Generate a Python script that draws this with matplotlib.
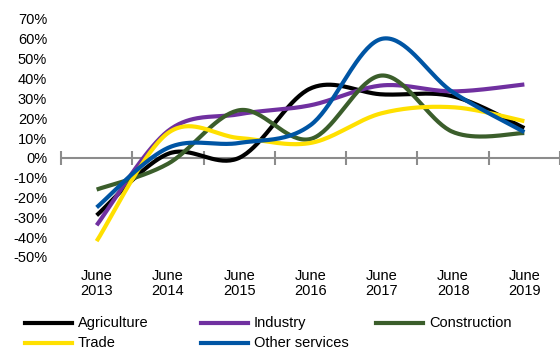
import numpy as np
import matplotlib
matplotlib.use("Agg")
import matplotlib.pyplot as plt
from matplotlib.lines import Line2D

plt.rcParams['font.family'] = ['Liberation Sans', 'DejaVu Sans']

categories = ["June\n2013", "June\n2014", "June\n2015", "June\n2016", "June\n2017", "June\n2018", "June\n2019"]
agriculture = [-29, 2, 0, 35, 32, 31, 15]
industry = [-34, 13.5, 22, 26.5, 36.5, 33.5, 37]
construction = [-16, -3, 24, 9.5, 41.5, 13, 12.5]
trade = [-42, 12.5, 10, 7.5, 22.5, 25.5, 18.5]
other_services = [-25, 5, 7.5, 16.5, 60, 33, 13]

series_names = ["Agriculture", "Industry", "Construction", "Trade", "Other services"]
series_values = [agriculture, industry, construction, trade, other_services]
colors = ["#000000", "#7030A0", "#3B5E2B", "#FFE000", "#0055A4"]
yticks = [-50, -40, -30, -20, -10, 0, 10, 20, 30, 40, 50, 60, 70]


def smooth(xs, ys, n=40):
    P = np.column_stack([xs, ys]).astype(float)
    P = np.vstack([P[0], P, P[-1]])
    out = []
    for i in range(1, len(P) - 2):
        p0, p1, p2, p3 = P[i - 1], P[i], P[i + 1], P[i + 2]
        b1 = p1 + (p2 - p0) / 6.0
        b2 = p2 - (p3 - p1) / 6.0
        t = np.linspace(0, 1, n)[:, None]
        seg = ((1 - t) ** 3) * p1 + 3 * ((1 - t) ** 2) * t * b1 + 3 * (1 - t) * t ** 2 * b2 + t ** 3 * p2
        out.append(seg if i == 1 else seg[1:])
    c = np.vstack(out)
    return c[:, 0], c[:, 1]


W, H = 560, 354
fig = plt.figure(figsize=(W / 100, H / 100), dpi=100)
ax = fig.add_axes([61 / W, 1 - 257 / H, (560 - 61) / W, (257 - 19) / H])

x = np.arange(len(categories))
for vals, col in zip(series_values, colors):
    sx, sy = smooth(x, vals)
    ax.plot(sx, sy, color=col, lw=3, solid_capstyle='butt', zorder=3)

ax.set_xlim(-0.5, len(categories) - 0.5)
ax.set_ylim(-50, 70)
for s in ax.spines.values():
    s.set_visible(False)

# x axis line at 0 with cross ticks between categories
ax.axhline(0, color="#8C8C8C", lw=1.5, zorder=2)
ax.set_xticks(np.arange(-0.5, len(categories)))
ax.tick_params(axis='x', which='major', direction='inout', length=10, width=1.5,
               color="#8C8C8C", labelbottom=False)
ax.spines['bottom'].set_position(('data', 0))

ax.set_yticks(yticks)
ax.set_yticklabels([f"{v}%" for v in yticks])
ax.tick_params(axis='y', length=0, pad=10, labelsize=10.5)

for xi, lab in zip(x, categories):
    ax.text(xi, -0.052, lab, transform=ax.get_xaxis_transform(),
            ha='center', va='top', fontsize=10.5, linespacing=1.05)

# legend (manual, row-wise layout)
leg_pos = [(25, 323), (201, 323), (376, 323), (25, 343), (201, 343)]
for (lx, ly), name, col in zip(leg_pos, series_names, colors):
    fig.add_artist(Line2D([lx / W, (lx + 47) / W], [1 - ly / H, 1 - ly / H],
                          color=col, lw=3, transform=fig.transFigure))
    fig.text((lx + 53) / W, 1 - ly / H, name, ha='left', va='center', fontsize=10.5)

fig.savefig("out.png", dpi=100)
